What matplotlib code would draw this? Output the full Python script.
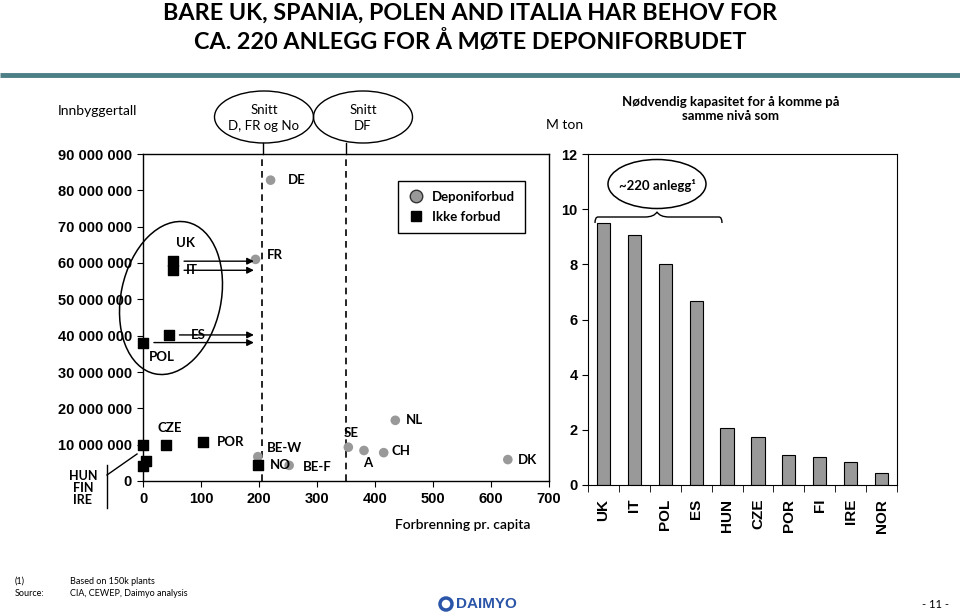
import matplotlib
matplotlib.use("Agg")
import matplotlib.pyplot as plt
from matplotlib.patches import Ellipse, PathPatch, Circle
from matplotlib.path import Path
from matplotlib.lines import Line2D
from matplotlib.ticker import FuncFormatter

plt.rcParams['font.family'] = ['Liberation Sans', 'DejaVu Sans']
calib = ['Lato', 'DejaVu Sans']

# land med deponiforbud (sirkler): forbrenning pr capita, innbyggere (mill.)
ban_names = ['DE', 'FR', 'BE-W', 'BE-F', 'SE', 'A', 'CH', 'NL', 'DK']
ban_x = [220, 194, 198, 252, 354, 381, 415, 435, 629]
ban_pop = [82.8, 61.0, 6.7, 4.3, 9.3, 8.4, 7.8, 16.7, 5.9]

# land uten forbud (firkanter)
noban_names = ['UK', 'IT', 'ES', 'POL', 'CZE', 'POR', 'NO', 'HUN', 'FIN', 'IRE']
noban_x = [52, 52, 44, 0, 39, 104, 199, 0, 5, 0]
noban_pop = [60.5, 58.0, 40.2, 38.1, 10.0, 10.6, 4.5, 10.0, 5.5, 4.0]

snitt_x = [206, 350]   # Snitt D, FR og No / Snitt DF
arrow_from = ['UK', 'IT', 'ES', 'POL']

# nødvendig kapasitet, M ton
bar_names = ['UK', 'IT', 'POL', 'ES', 'HUN', 'CZE', 'POR', 'FI', 'IRE', 'NOR']
bar_vals = [9.49, 9.06, 8.02, 6.68, 2.05, 1.73, 1.09, 1.03, 0.82, 0.42]

# label offsets in pixels (dx, dy)
lab_off = {'DE': (17, 0), 'FR': (11, 4), 'BE-W': (9, 9), 'BE-F': (14, -2),
           'SE': (-5, 14), 'A': (-1, -13), 'CH': (8, 2), 'NL': (11, 0),
           'DK': (10, 0), 'UK': (3, 18), 'IT': (13, 0), 'ES': (22, 0),
           'POL': (6, -14), 'CZE': (-8, 17), 'POR': (14, 0), 'NO': (11, 0)}

W, H = 960, 613
fig = plt.figure(figsize=(9.6, 6.13), dpi=100)

def fa(l, t, r, b):
    return [l / W, 1 - b / H, (r - l) / W, (b - t) / H]

# ---------------- scatter
ax = fig.add_axes(fa(143, 154, 549, 481))
ax.set_xlim(0, 700)
ax.set_ylim(0, 90e6)
ax.scatter(ban_x, [p * 1e6 for p in ban_pop], s=48, color='#999999',
           edgecolors='none', zorder=3, clip_on=False)
ax.scatter(noban_x, [p * 1e6 for p in noban_pop], s=55, marker='s',
           color='black', zorder=3, clip_on=False)
for n, x, p in zip(ban_names + noban_names, ban_x + noban_x, ban_pop + noban_pop):
    if n in lab_off:
        ax.annotate(n, (x, p * 1e6), xytext=lab_off[n], textcoords='offset pixels',
                    ha='left', va='center', fontsize=9.5, fontweight='bold',
                    family=calib)
for n in arrow_from:
    i = noban_names.index(n)
    ax.annotate('', xy=(snitt_x[0] - 10, noban_pop[i] * 1e6),
                xytext=(noban_x[i] + 14, noban_pop[i] * 1e6),
                arrowprops=dict(arrowstyle='-|>', color='black', lw=1,
                                mutation_scale=10))
for sx in snitt_x:
    ax.axvline(sx, color='black', ls=(0, (4, 3)), lw=1.2)
ax.set_xticks(range(0, 701, 100))
ax.set_yticks([i * 1e7 for i in range(10)])
ax.yaxis.set_major_formatter(FuncFormatter(lambda v, p: f"{int(v):,}".replace(',', ' ')))
ax.tick_params(direction='out', length=4, labelsize=10.5, pad=4)
for t in ax.get_xticklabels() + ax.get_yticklabels():
    t.set_fontweight('bold')
for s in ax.spines.values():
    s.set_linewidth(1)
ax.set_xlabel('Forbrenning pr. capita', family=calib, fontsize=10,
              fontweight='semibold')
ax.xaxis.set_label_coords(0.788, -0.115)

hands = [Line2D([], [], marker='o', ls='', color='#999999', markeredgecolor='#333333',
                markersize=9),
         Line2D([], [], marker='s', ls='', color='black', markersize=7)]
leg = ax.legend(hands, ['Deponiforbud', 'Ikke forbud'], loc='upper left',
                bbox_to_anchor=(0.628, 0.917), borderaxespad=0, fancybox=False,
                edgecolor='black', framealpha=1, handletextpad=0.5, borderpad=0.75,
                labelspacing=0.6, prop={'family': calib, 'weight': 'bold', 'size': 9.5},
                handlelength=1.3)
leg.get_frame().set_linewidth(1)

# ---------------- bars
bx = fig.add_axes(fa(588, 154, 897, 485))
bx.bar(range(len(bar_vals)), bar_vals, width=0.43, color='#999999',
       edgecolor='black', linewidth=0.8)
bx.set_xlim(-0.5, len(bar_vals) - 0.5)
bx.set_ylim(0, 12)
bx.set_yticks(range(0, 13, 2))
bx.set_xticks(range(len(bar_names)))
bx.set_xticklabels(bar_names, rotation=90, fontsize=11, fontweight='bold')
bx.set_xticks([i - 0.5 for i in range(len(bar_names) + 1)], minor=True)
bx.tick_params(axis='x', which='major', length=0, pad=10)
bx.tick_params(axis='x', which='minor', length=5, direction='out')
bx.tick_params(axis='y', length=4, direction='out', labelsize=10.5)
for t in bx.get_yticklabels():
    t.set_fontweight('bold')

# ---------------- overlay in pixel coords
ov = fig.add_axes([0, 0, 1, 1])
ov.set_xlim(0, W)
ov.set_ylim(H, 0)
ov.axis('off')
ov.patch.set_alpha(0)

ov.text(470, 13, 'BARE UK, SPANIA, POLEN AND ITALIA HAR BEHOV FOR', ha='center',
        va='center', fontsize=16.8, fontweight='bold', family=calib)
ov.text(470, 41, 'CA. 220 ANLEGG FOR Å MØTE DEPONIFORBUDET', ha='center',
        va='center', fontsize=16.8, fontweight='bold', family=calib)
ov.plot([0, W], [75, 75], color='#4d7f86', lw=3.5, solid_capstyle='butt')

ov.text(97, 111, 'Innbyggertall', ha='center', va='center', fontsize=10, family=calib)
ov.text(565, 125, 'M ton', ha='center', va='center', fontsize=10, family=calib)
ov.text(731, 109, 'Nødvendig kapasitet for å komme på\nsamme nivå som', ha='center',
        va='center', fontsize=9.5, fontweight='bold', family=calib, linespacing=1.3)

for cx, txt in [(264, 'Snitt\nD, FR og No'), (363, 'Snitt\nDF')]:
    ov.add_patch(Ellipse((cx, 117), 99, 52, fill=False, lw=1, ec='black'))
    ov.text(cx, 118, txt, ha='center', va='center', fontsize=9.5, family=calib,
            linespacing=1.35)
ov.plot([263, 263], [143, 154], color='black', lw=1)
ov.plot([346, 346], [143, 154], color='black', lw=1)

ov.add_patch(Ellipse((171, 298), 100, 155, angle=12, fill=False, lw=1.1, ec='black'))

ov.text(83, 488, 'HUN\nFIN\nIRE', ha='center', va='center', fontsize=9,
        fontweight='bold', family=calib, linespacing=1.05)
ov.plot([107, 107], [465, 508], color='black', lw=1)
ov.plot([107, 137], [475, 454], color='black', lw=1)

ov.add_patch(Ellipse((657, 184), 98, 49, fill=False, lw=1.1, ec='black'))
ov.text(657, 185, '~220 anlegg¹', ha='center', va='center', fontsize=9.5,
        fontweight='bold', family=calib)
x0, x1, xm, yb, yl, yt = 595, 722, 657, 223, 217, 212
verts = [(x0, yb), (x0, yl), (x0 + 3, yl), (x0 + 12, yl),
         (xm - 12, yl), (xm - 3, yl), (xm, yt),
         (xm + 3, yl), (xm + 12, yl), (x1 - 12, yl),
         (x1 - 3, yl), (x1, yl), (x1, yb)]
codes = [Path.MOVETO, Path.CURVE3, Path.CURVE3, Path.LINETO,
         Path.LINETO, Path.CURVE3, Path.CURVE3,
         Path.CURVE3, Path.CURVE3, Path.LINETO,
         Path.LINETO, Path.CURVE3, Path.CURVE3]
ov.add_patch(PathPatch(Path(verts, codes), fill=False, lw=1, ec='black'))

ov.text(15, 581, '(1)', fontsize=6.5, va='center', family=calib)
ov.text(70, 581, 'Based on 150k plants', fontsize=6.5, va='center', family=calib)
ov.text(15, 594, 'Source:', fontsize=6.5, va='center', family=calib)
ov.text(70, 594, 'CIA, CEWEP, Daimyo analysis', fontsize=6.5, va='center', family=calib)
ov.add_patch(Circle((446, 604), 6, fill=False, lw=2.5, ec='#2b55a8'))
ov.text(456, 604, 'DAIMYO', fontsize=11, fontweight='bold', va='center',
        color='#2b55a8', family=['Liberation Sans'])
ov.text(935, 604, '- 11 -', fontsize=8, ha='center', va='center', family=calib)

fig.savefig('out.png', dpi=100)
